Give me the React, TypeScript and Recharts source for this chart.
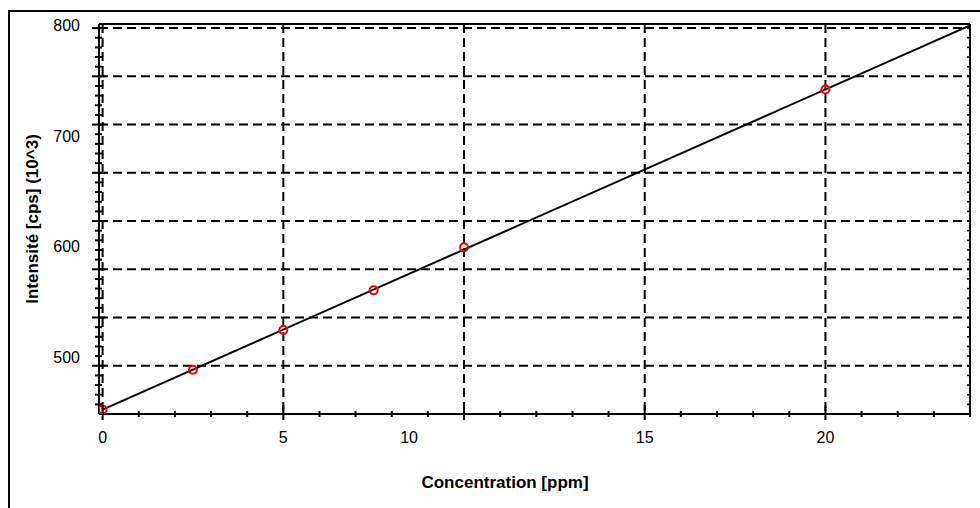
import React from 'react';
import { ComposedChart, Line, Scatter, XAxis, YAxis, CartesianGrid } from 'recharts';

// ---- data ----
const concentrations = [0, 2.5, 5, 7.5, 10, 20];
const intensities = [452, 488, 524, 560, 599, 742];
const fitConcentrations = [0, 24];
const fitIntensities = [452, 800];

// ---- axes ----
const xDomain: [number, number] = [-0.1, 24];
const yDomain: [number, number] = [448, 801.3];
const xMinorTicks = [0, 1, 2, 3, 4, 5, 6, 7, 8, 9, 10, 11, 12, 13, 14, 15, 16, 17, 18, 19, 20, 21, 22, 23, 24];
const xMajorTicks = [0, 5, 10, 15, 20];
const xTickLabels = ['0', '5', '10', '15', '20'];
const xLabelShift = [0, 0, -55, 0, 0];
const yGridValues = [491.7, 535.4, 579.1, 622.8, 666.5, 710.2, 753.9, 797.6];
const yLabelValues = [500, 600, 700, 800];
const yTickLabels = ['500', '600', '700', '800'];

const FONT = '"Liberation Sans", Arial, sans-serif';

const pointData = concentrations.map((x, i) => ({ x, y: intensities[i] }));
const fitData = fitConcentrations.map((x, i) => ({ x, y: fitIntensities[i] }));

const bounds = [yDomain[0], ...yGridValues];
const yMinorTicks: number[] = [];
for (let i = 0; i < bounds.length - 1; i++) {
  const step = (bounds[i + 1] - bounds[i]) / 5;
  for (let k = 1; k <= 4; k++) yMinorTicks.push(+(bounds[i] + step * k).toFixed(3));
}
const yMarkTicks = [...yMinorTicks, ...yGridValues].sort((a, b) => a - b);
const yLeftTicks = [...yMarkTicks, ...yLabelValues].sort((a, b) => a - b);

const near = (arr: number[], v: number) => arr.findIndex((a) => Math.abs(a - v) < 1e-6);

const BottomTick = (props: any) => {
  const { x, y, payload } = props;
  const idx = near(xMajorTicks, payload.value);
  if (idx < 0) {
    return <line x1={x} x2={x} y1={y - 3} y2={y + 3} stroke="#000" strokeWidth={2} />;
  }
  return (
    <g>
      <line x1={x} x2={x} y1={y - 9} y2={y + 6} stroke="#000" strokeWidth={2} />
      <text x={x + xLabelShift[idx]} y={y + 29} textAnchor="middle" fontSize={16} fontFamily={FONT} fill="#000">
        {xTickLabels[idx]}
      </text>
    </g>
  );
};

const TopTick = (props: any) => {
  const { x, y } = props;
  return <line x1={x} x2={x} y1={y} y2={y + 3} stroke="#000" strokeWidth={1.5} />;
};

const LeftTick = (props: any) => {
  const { x, y, payload } = props;
  const v = payload.value;
  const li = near(yLabelValues, v);
  if (li >= 0) {
    return (
      <text x={x - 19} y={y} dy={6} textAnchor="end" fontSize={16} fontFamily={FONT} fill="#000">
        {yTickLabels[li]}
      </text>
    );
  }
  if (near(yGridValues, v) >= 0) {
    return <line x1={x - 7} x2={x + 6} y1={y} y2={y} stroke="#000" strokeWidth={2} />;
  }
  return <line x1={x - 4} x2={x + 3} y1={y} y2={y} stroke="#000" strokeWidth={2} />;
};

const RightTick = (props: any) => {
  const { x, y } = props;
  return <line x1={x - 3} x2={x} y1={y} y2={y} stroke="#000" strokeWidth={1.5} />;
};

const RedCircle = (props: any) => (
  <circle cx={props.cx} cy={props.cy} r={4} fill="none" stroke="#ff0000" strokeWidth={2} />
);

export default function App() {
  return (
    <div
      style={{
        position: 'fixed',
        left: 8,
        top: 10,
        width: 972,
        height: 498,
        borderTop: '2px solid #000',
        borderLeft: '2px solid #000',
        background: '#fff',
      }}
    >
      <ComposedChart width={968} height={494} margin={{ top: 11, right: 7, bottom: 32, left: 29 }}>
        <CartesianGrid
          xAxisId="bottom"
          yAxisId="left"
          stroke="#000"
          strokeWidth={2}
          strokeDasharray="9 5"
          horizontalValues={yGridValues}
          verticalValues={xMajorTicks}
        />
        <XAxis
          xAxisId="bottom"
          dataKey="x"
          type="number"
          domain={xDomain}
          ticks={xMinorTicks}
          interval={0}
          height={60}
          tickSize={0}
          tickMargin={0}
          tickLine={false}
          axisLine={{ stroke: '#000', strokeWidth: 2 }}
          tick={BottomTick}
          allowDataOverflow
          label={() => (
            <text x={495} y={476} textAnchor="middle" fontSize={17} fontWeight="bold" fontFamily={FONT} fill="#000">
              Concentration [ppm]
            </text>
          )}
        />
        <XAxis
          xAxisId="top"
          orientation="top"
          type="number"
          domain={xDomain}
          ticks={xMinorTicks}
          interval={0}
          height={1}
          tickSize={0}
          tickMargin={0}
          tickLine={false}
          axisLine={{ stroke: '#000', strokeWidth: 2 }}
          tick={TopTick}
          allowDataOverflow
        />
        <YAxis
          yAxisId="left"
          dataKey="y"
          type="number"
          domain={yDomain}
          ticks={yLeftTicks}
          interval={0}
          width={60}
          tickSize={0}
          tickMargin={0}
          tickLine={false}
          axisLine={{ stroke: '#000', strokeWidth: 2 }}
          tick={LeftTick}
          allowDataOverflow
          label={() => (
            <text
              x={22}
              y={207}
              transform="rotate(-90 22 207)"
              textAnchor="middle"
              dy={6}
              fontSize={17}
              fontWeight="bold"
              fontFamily={FONT}
              fill="#000"
            >
              Intensité [cps] (10^3)
            </text>
          )}
        />
        <YAxis
          yAxisId="right"
          orientation="right"
          type="number"
          domain={yDomain}
          ticks={yMarkTicks}
          interval={0}
          width={1}
          tickSize={0}
          tickMargin={0}
          tickLine={false}
          axisLine={{ stroke: '#000', strokeWidth: 2 }}
          tick={RightTick}
          allowDataOverflow
        />
        <Line
          xAxisId="bottom"
          yAxisId="left"
          data={fitData}
          dataKey="y"
          type="linear"
          stroke="#000"
          strokeWidth={2}
          dot={false}
          activeDot={false}
          isAnimationActive={false}
        />
        <Scatter
          xAxisId="bottom"
          yAxisId="left"
          data={pointData}
          dataKey="y"
          shape={RedCircle}
          isAnimationActive={false}
        />
      </ComposedChart>
    </div>
  );
}
